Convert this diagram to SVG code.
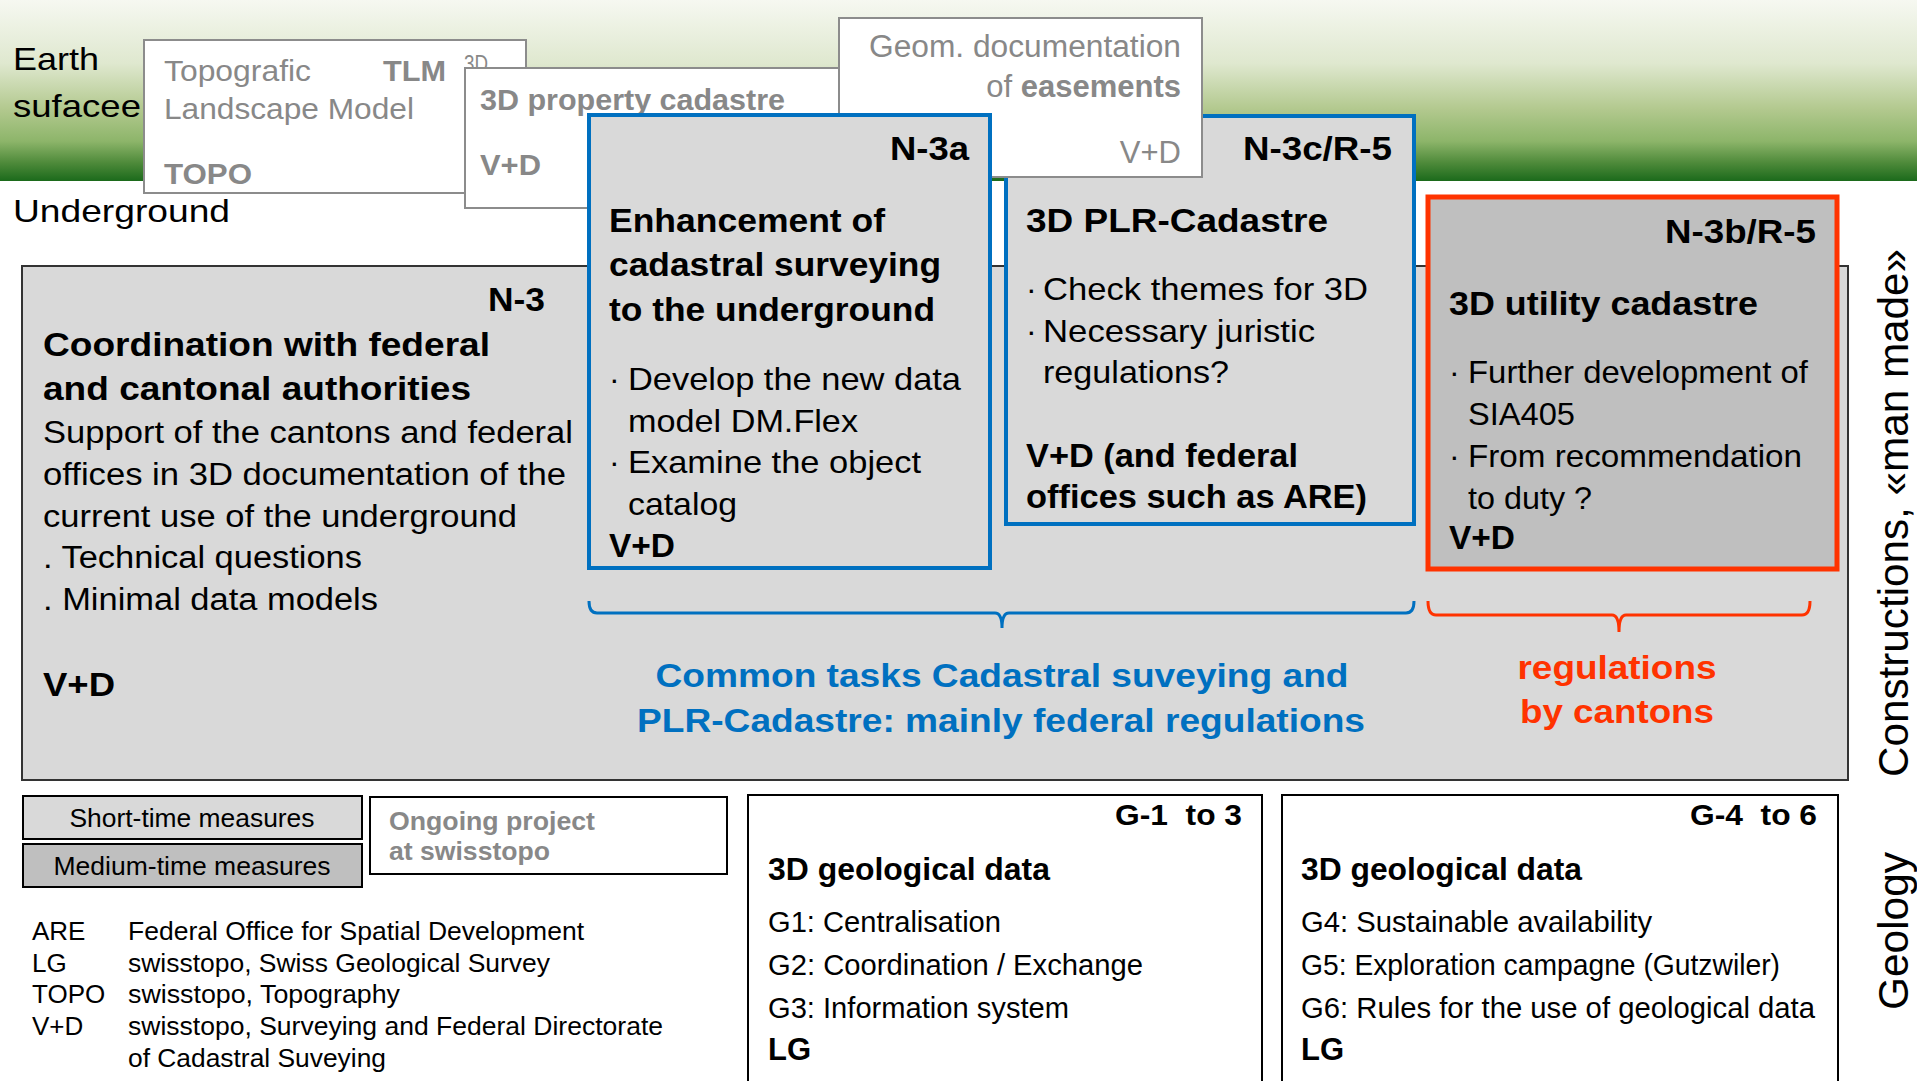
<svg xmlns="http://www.w3.org/2000/svg" width="1917" height="1081" viewBox="0 0 1917 1081">
<defs>
<linearGradient id="earth" x1="0" y1="0" x2="0" y2="1">
<stop offset="0" stop-color="#f6f8f1"/>
<stop offset="0.35" stop-color="#dfe8cf"/>
<stop offset="0.6" stop-color="#b3c98f"/>
<stop offset="0.78" stop-color="#8db56a"/>
<stop offset="0.9" stop-color="#4e8a3a"/>
<stop offset="1" stop-color="#1b6a1b"/>
</linearGradient>
<style>
text{font-family:"Liberation Sans",Arial,sans-serif;fill:#000}
.b{font-weight:bold}
.g{fill:#888}
.w{fill:#fff;stroke:#8c8c8c;stroke-width:2}
.light{fill:#d9d9d9}
.dark{fill:#bfbfbf}
.blue{stroke:#0070c0;stroke-width:4}
.red{stroke:#ff3300;stroke-width:5}
.blk{stroke:#000;stroke-width:2}
.f26{font-size:26px}
.f29{font-size:29px}
.f31{font-size:31px}
.f32{font-size:32px}
.f34{font-size:34px}
.e{text-anchor:end}
.m{text-anchor:middle}
.bt{fill:#0070c0}
.rt{fill:#ff3300}
</style>
</defs>
<rect x="0" y="0" width="1917" height="181" fill="url(#earth)"/>
<g id="labels-left">
<text class="f32" x="13" y="70" textLength="86" lengthAdjust="spacingAndGlyphs">Earth</text>
<text class="f32" x="13" y="117" textLength="128" lengthAdjust="spacingAndGlyphs">sufacee</text>
<text class="f32" x="13" y="222" textLength="217" lengthAdjust="spacingAndGlyphs">Underground</text>
</g>
<g id="tlm">
<rect class="w" x="144" y="40" width="382" height="153"/>
<text class="f29 g" x="164" y="81" textLength="147" lengthAdjust="spacingAndGlyphs">Topografic</text>
<text class="f29 g b" x="383" y="81" textLength="63" lengthAdjust="spacingAndGlyphs">TLM</text>
<text class="g" style="font-size:24px" x="464" y="72" textLength="24" lengthAdjust="spacingAndGlyphs">3D</text>
<text class="f29 g" x="164" y="119" textLength="250" lengthAdjust="spacingAndGlyphs">Landscape Model</text>
<text class="f29 g b" x="164" y="184" textLength="88" lengthAdjust="spacingAndGlyphs">TOPO</text>
</g>
<g id="property">
<rect class="w" x="465" y="68" width="388" height="140"/>
<text class="f29 g b" x="480" y="110" textLength="305" lengthAdjust="spacingAndGlyphs">3D property cadastre</text>
<text class="f29 g b" x="480" y="175" textLength="61" lengthAdjust="spacingAndGlyphs">V+D</text>
</g>
<g id="n3">
<rect class="light" x="22" y="266" width="1826" height="514" stroke="#333" stroke-width="2"/>
<text class="f34 b e" x="545" y="311" textLength="57" lengthAdjust="spacingAndGlyphs">N-3</text>
<text class="f34 b" x="43" y="356" textLength="447" lengthAdjust="spacingAndGlyphs">Coordination with federal</text>
<text class="f34 b" x="43" y="400" textLength="428" lengthAdjust="spacingAndGlyphs">and cantonal authorities</text>
<text class="f31" x="43" y="443" textLength="530" lengthAdjust="spacingAndGlyphs">Support of the cantons and federal</text>
<text class="f31" x="43" y="485" textLength="523" lengthAdjust="spacingAndGlyphs">offices in 3D documentation of the</text>
<text class="f31" x="43" y="527" textLength="474" lengthAdjust="spacingAndGlyphs">current use of the underground</text>
<text class="f31" x="43" y="568" textLength="319" lengthAdjust="spacingAndGlyphs">. Technical questions</text>
<text class="f31" x="43" y="610" textLength="335" lengthAdjust="spacingAndGlyphs">. Minimal data models</text>
<text class="f34 b" x="43" y="696" textLength="72" lengthAdjust="spacingAndGlyphs">V+D</text>
</g>
<g id="n3c">
<rect class="light blue" x="1006" y="116" width="408" height="408"/>
<text class="f34 b e" x="1392" y="160" textLength="149" lengthAdjust="spacingAndGlyphs">N-3c/R-5</text>
<text class="f34 b" x="1026" y="232" textLength="302" lengthAdjust="spacingAndGlyphs">3D PLR-Cadastre</text>
<text class="f32" x="1026" y="300">·</text>
<text class="f32" x="1043" y="300" textLength="325" lengthAdjust="spacingAndGlyphs">Check themes for 3D</text>
<text class="f32" x="1026" y="342">·</text>
<text class="f32" x="1043" y="342" textLength="272" lengthAdjust="spacingAndGlyphs">Necessary juristic</text>
<text class="f32" x="1043" y="383" textLength="186" lengthAdjust="spacingAndGlyphs">regulations?</text>
<text class="f34 b" x="1026" y="467" textLength="272" lengthAdjust="spacingAndGlyphs">V+D (and federal</text>
<text class="f34 b" x="1026" y="508" textLength="341" lengthAdjust="spacingAndGlyphs">offices such as ARE)</text>
</g>
<g id="easements">
<rect class="w" x="839" y="18" width="363" height="159"/>
<text class="f31 g e" x="1181" y="57" textLength="312" lengthAdjust="spacingAndGlyphs">Geom. documentation</text>
<text class="f31 g e" x="1181" y="97">of <tspan class="b">easements</tspan></text>
<text class="f31 g e" x="1181" y="163">V+D</text>
</g>
<g id="n3a">
<rect class="light blue" x="589" y="115" width="401" height="453"/>
<text class="f34 b e" x="969" y="160" textLength="79" lengthAdjust="spacingAndGlyphs">N-3a</text>
<text class="f34 b" x="609" y="232" textLength="276" lengthAdjust="spacingAndGlyphs">Enhancement of</text>
<text class="f34 b" x="609" y="276" textLength="332" lengthAdjust="spacingAndGlyphs">cadastral surveying</text>
<text class="f34 b" x="609" y="321" textLength="326" lengthAdjust="spacingAndGlyphs">to the underground</text>
<text class="f32" x="609" y="390">·</text>
<text class="f32" x="628" y="390" textLength="333" lengthAdjust="spacingAndGlyphs">Develop the new data</text>
<text class="f32" x="628" y="432" textLength="230" lengthAdjust="spacingAndGlyphs">model DM.Flex</text>
<text class="f32" x="609" y="473">·</text>
<text class="f32" x="628" y="473" textLength="293" lengthAdjust="spacingAndGlyphs">Examine the object</text>
<text class="f32" x="628" y="515" textLength="109" lengthAdjust="spacingAndGlyphs">catalog</text>
<text class="f34 b" x="609" y="557" textLength="66" lengthAdjust="spacingAndGlyphs">V+D</text>
</g>
<g id="n3b">
<rect class="dark red" x="1428" y="197" width="409" height="372"/>
<text class="f34 b e" x="1816" y="243" textLength="151" lengthAdjust="spacingAndGlyphs">N-3b/R-5</text>
<text class="f34 b" x="1449" y="315" textLength="309" lengthAdjust="spacingAndGlyphs">3D utility cadastre</text>
<text class="f32" x="1449" y="383">·</text>
<text class="f32" x="1468" y="383" textLength="340" lengthAdjust="spacingAndGlyphs">Further development of</text>
<text class="f32" x="1468" y="425" textLength="107" lengthAdjust="spacingAndGlyphs">SIA405</text>
<text class="f32" x="1449" y="467">·</text>
<text class="f32" x="1468" y="467" textLength="334" lengthAdjust="spacingAndGlyphs">From recommendation</text>
<text class="f32" x="1468" y="509" textLength="124" lengthAdjust="spacingAndGlyphs">to duty ?</text>
<text class="f34 b" x="1449" y="549" textLength="66" lengthAdjust="spacingAndGlyphs">V+D</text>
</g>
<g id="connectors" fill="none" stroke-width="3">
<path d="M589,601 Q589,613 597,613 L995,613 Q1002,613 1002,628 Q1002,613 1009,613 L1406,613 Q1414,613 1414,601" stroke="#0070c0"/>
<path d="M1428,601 Q1428,615 1436,615 L1612,615 Q1619,615 1619,632 Q1619,615 1626,615 L1802,615 Q1810,615 1810,601" stroke="#ff3300"/>
</g>
<g id="federal-label">
<text class="f34 b m bt" x="1002" y="687" textLength="693" lengthAdjust="spacingAndGlyphs">Common tasks Cadastral suveying and</text>
<text class="f34 b m bt" x="1001" y="732" textLength="728" lengthAdjust="spacingAndGlyphs">PLR-Cadastre: mainly federal regulations</text>
</g>
<g id="canton-label">
<text class="f34 b m rt" x="1617" y="679" textLength="199" lengthAdjust="spacingAndGlyphs">regulations</text>
<text class="f34 b m rt" x="1617" y="723" textLength="194" lengthAdjust="spacingAndGlyphs">by cantons</text>
</g>
<g id="legend-short">
<rect class="light blk" x="23" y="796" width="339" height="43"/>
<text class="f26 m" x="192" y="827" textLength="245" lengthAdjust="spacingAndGlyphs">Short-time measures</text>
</g>
<g id="legend-medium">
<rect class="dark blk" x="23" y="844" width="339" height="43"/>
<text class="f26 m" x="192" y="875" textLength="277" lengthAdjust="spacingAndGlyphs">Medium-time measures</text>
</g>
<g id="legend-ongoing">
<rect class="blk" fill="#fff" x="370" y="797" width="357" height="77"/>
<text class="f26 b g" x="389" y="830" textLength="206" lengthAdjust="spacingAndGlyphs">Ongoing project</text>
<text class="f26 b g" x="389" y="860" textLength="161" lengthAdjust="spacingAndGlyphs">at swisstopo</text>
</g>
<g id="abbreviations" class="f26">
<text x="32" y="940">ARE</text>
<text x="128" y="940" textLength="456" lengthAdjust="spacingAndGlyphs">Federal Office for Spatial Development</text>
<text x="32" y="972">LG</text>
<text x="128" y="972" textLength="422" lengthAdjust="spacingAndGlyphs">swisstopo, Swiss Geological Survey</text>
<text x="32" y="1003">TOPO</text>
<text x="128" y="1003" textLength="272" lengthAdjust="spacingAndGlyphs">swisstopo, Topography</text>
<text x="32" y="1035">V+D</text>
<text x="128" y="1035" textLength="535" lengthAdjust="spacingAndGlyphs">swisstopo, Surveying and Federal Directorate</text>
<text x="128" y="1067" textLength="258" lengthAdjust="spacingAndGlyphs">of Cadastral Suveying</text>
</g>
<g id="g1-3">
<rect class="blk" fill="#fff" x="748" y="795" width="514" height="300"/>
<text class="b e" style="font-size:30px" x="1242" y="825" xml:space="preserve" textLength="127" lengthAdjust="spacingAndGlyphs">G-1  to 3</text>
<text class="f32 b" x="768" y="880" textLength="282" lengthAdjust="spacingAndGlyphs">3D geological data</text>
<text class="f29" x="768" y="932" textLength="233" lengthAdjust="spacingAndGlyphs">G1: Centralisation</text>
<text class="f29" x="768" y="975" textLength="375" lengthAdjust="spacingAndGlyphs">G2: Coordination / Exchange</text>
<text class="f29" x="768" y="1018" textLength="301" lengthAdjust="spacingAndGlyphs">G3: Information system</text>
<text class="f31 b" x="768" y="1060">LG</text>
</g>
<g id="g4-6">
<rect class="blk" fill="#fff" x="1282" y="795" width="556" height="300"/>
<text class="b e" style="font-size:30px" x="1817" y="825" xml:space="preserve" textLength="127" lengthAdjust="spacingAndGlyphs">G-4  to 6</text>
<text class="f32 b" x="1301" y="880" textLength="281" lengthAdjust="spacingAndGlyphs">3D geological data</text>
<text class="f29" x="1301" y="932" textLength="351" lengthAdjust="spacingAndGlyphs">G4: Sustainable availability</text>
<text class="f29" x="1301" y="975" textLength="479" lengthAdjust="spacingAndGlyphs">G5: Exploration campagne (Gutzwiler)</text>
<text class="f29" x="1301" y="1018" textLength="514" lengthAdjust="spacingAndGlyphs">G6: Rules for the use of geological data</text>
<text class="f31 b" x="1301" y="1060">LG</text>
</g>
<g id="side-labels">
<text class="m" style="font-size:42px" transform="translate(1908,513) rotate(-90)" textLength="528" lengthAdjust="spacingAndGlyphs">Constructions, «man made»</text>
<text class="m" style="font-size:42px" transform="translate(1908,931) rotate(-90)" textLength="158" lengthAdjust="spacingAndGlyphs">Geology</text>
</g>
</svg>
